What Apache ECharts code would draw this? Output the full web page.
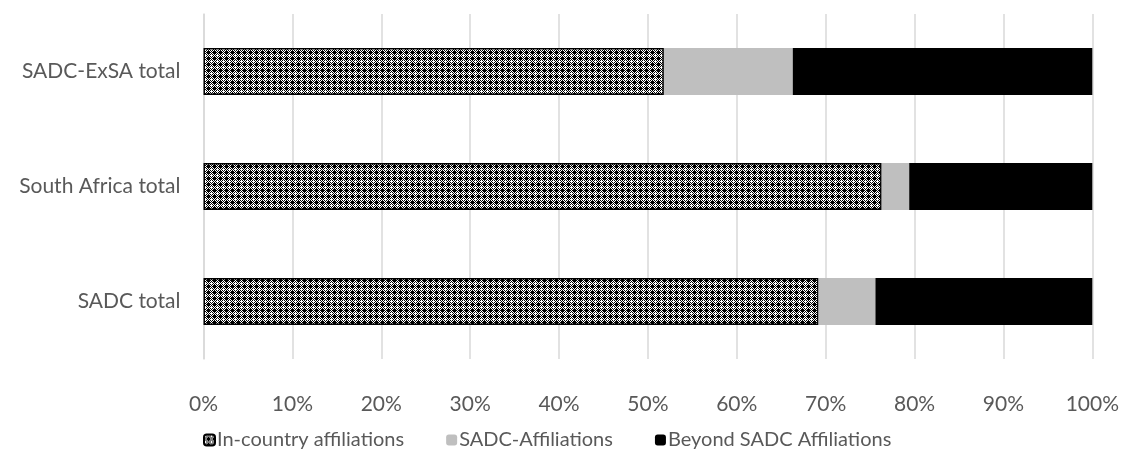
<!DOCTYPE html>
<html>
<head>
<meta charset="utf-8">
<script src="https://cdn.jsdelivr.net/npm/echarts@6/dist/echarts.min.js"></script>
<style>
  html, body { margin: 0; padding: 0; background: #fff; }
  #chart { width: 1122px; height: 455px; }
</style>
</head>
<body>
<div id="chart"></div>
<script>
// Regions, listed bottom to top on the category axis
const categories = ['SADC total', 'South Africa total', 'SADC-ExSA total'];
// Share of affiliations (percent)
const inCountry = [69.2, 76.3, 51.8];
const sadcAffiliations = [6.4, 3.1, 14.5];
const beyondSadc = [24.4, 20.6, 33.7];
const xTicks = [0, 10, 20, 30, 40, 50, 60, 70, 80, 90, 100];

// Dotted-grid hatch for the in-country bars: a fine checkerboard
// with alternating white and black crosses laid over it
function makeHatch() {
  const n = 6;
  const c = document.createElement('canvas');
  c.width = n; c.height = n;
  const g = c.getContext('2d');
  for (let y = 0; y < n; y++) {
    for (let x = 0; x < n; x++) {
      g.fillStyle = (x + y) % 2 ? '#fff' : '#000';
      g.fillRect(x, y, 1, 1);
    }
  }
  const plus = (cx, cy, col) => {
    g.fillStyle = col;
    [[0, 0], [1, 0], [-1, 0], [0, 1], [0, -1]].forEach(([dx, dy]) => {
      g.fillRect((cx + dx + n) % n, (cy + dy + n) % n, 1, 1);
    });
  };
  plus(1, 1, '#fff');
  plus(4, 4, '#000');
  return c;
}

const chart = echarts.init(document.getElementById('chart'), null, { renderer: 'canvas' });
const font = "Lato, 'Open Sans', sans-serif";

chart.setOption({
  animation: false,
  grid: { left: 203.5, right: 29.5, top: 14, bottom: 96, containLabel: false },
  xAxis: {
    type: 'value',
    min: 0, max: 100, interval: 10,
    axisLine: { show: false },
    axisTick: { show: false },
    splitLine: { lineStyle: { color: '#d9d9d9', width: 1.5 } },
    axisLabel: {
      margin: 35,
      color: '#595959',
      fontSize: 21,
      fontFamily: font,
      formatter: v => xTicks.includes(v) ? v + '%' : ''
    }
  },
  yAxis: {
    type: 'category',
    data: categories,
    axisLine: { show: true, lineStyle: { color: '#d9d9d9', width: 1.5 } },
    axisTick: { show: false },
    axisLabel: { margin: 23, color: '#595959', fontSize: 21, fontFamily: font }
  },
  legend: {
    top: 425,
    left: 198,
    itemWidth: 11,
    itemHeight: 11,
    itemGap: 42,
    textStyle: { color: '#595959', fontSize: 20, fontFamily: font, padding: [0, 0, 0, -3] },
    data: ['In-country affiliations', 'SADC-Affiliations', 'Beyond SADC Affiliations']
  },
  series: [
    {
      name: 'In-country affiliations',
      type: 'bar',
      stack: 'total',
      barWidth: 47,
      data: inCountry,
      itemStyle: {
        color: { image: makeHatch(), repeat: 'repeat' },
        borderColor: '#000',
        borderWidth: 1.5
      }
    },
    {
      name: 'SADC-Affiliations',
      type: 'bar',
      stack: 'total',
      data: sadcAffiliations,
      itemStyle: { color: '#bfbfbf' }
    },
    {
      name: 'Beyond SADC Affiliations',
      type: 'bar',
      stack: 'total',
      data: beyondSadc,
      itemStyle: { color: '#000000' }
    }
  ]
});
</script>
</body>
</html>
